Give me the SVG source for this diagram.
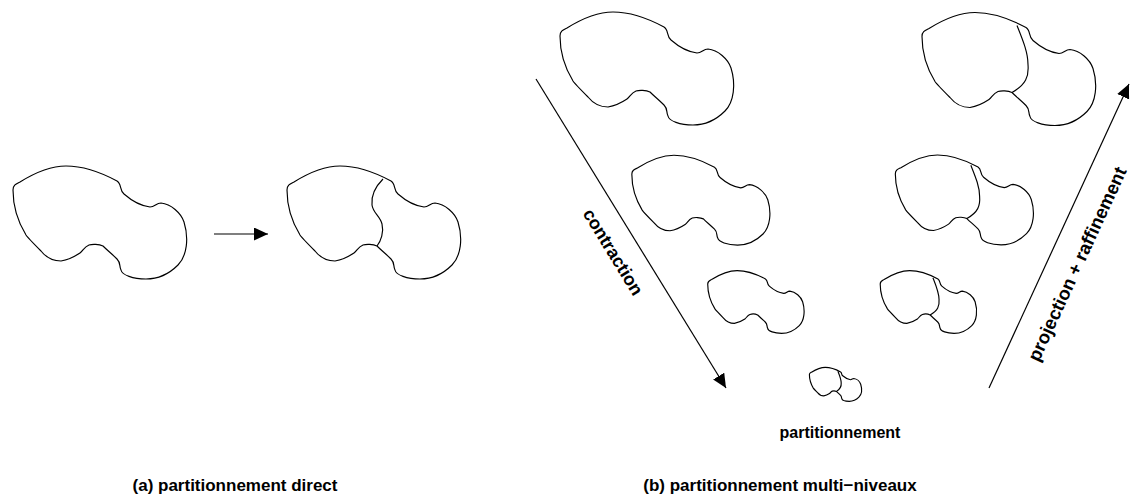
<svg xmlns="http://www.w3.org/2000/svg" width="1130" height="502" viewBox="0 0 1130 502">
<style>
.o{fill:none;stroke:#000;stroke-width:1.15;stroke-linejoin:round}
.c{fill:none;stroke:#000;stroke-width:1.2}
.t{font-family:"Liberation Sans",Arial,sans-serif;font-weight:bold;fill:#000}
</style>
<defs>
<path id="blob" vector-effect="non-scaling-stroke" d="M20,182 C36,172 50,166 66,166 C86,166 104,174 117,181 C122,184 119,190 124,194 C132,201 142,206 150,207 C155,207 156,203 161,203 C171,204 181,213 184,222 C189,238 187,256 178,265 C168,275 158,279 146,279 C133,279 122,275 121,270 C119,266 121,263 117,259 C112,254 107,250 103,246 C99,244 92,244 89,245 C84,247 83,251 80,253 C74,257 67,260 61,261 C52,261 45,256 41,251 C34,244 28,238 26,235 C18,222 13,205 13,190 C13,185 16,184 20,182 Z"/>
<path id="divA" vector-effect="non-scaling-stroke" d="M109,179 C100,188 97,196 98,205 C99,213 106,216 108,224 C110,232 107,241 103,246"/>
<path id="divB" vector-effect="non-scaling-stroke" d="M108,179 C114,194 119,206 119,218 C120,230 117,238 103,246"/>
<marker id="ah" markerUnits="userSpaceOnUse" markerWidth="15" markerHeight="14" refX="14" refY="6.5" orient="auto">
<path d="M0,0 L14,6.5 L0,13 Z" fill="#000"/>
</marker>
</defs>
<g id="a-original"><use href="#blob" class="o"/></g>
<g id="a-partitioned" transform="translate(274,0)"><use href="#blob" class="o"/><use href="#divA" class="o"/></g>
<g id="b-level1" transform="translate(547,-154)"><use href="#blob" class="o"/></g>
<g id="b-level2" transform="translate(621.5,23.3) scale(0.795)"><use href="#blob" class="o"/></g>
<g id="b-level3" transform="translate(700.5,178.5) scale(0.555)"><use href="#blob" class="o"/></g>
<g id="b-level4" transform="translate(805.5,317.6) scale(0.3)"><use href="#blob" class="o"/><use href="#divB" class="o"/></g>
<g id="b-refined3" transform="translate(873,178.5) scale(0.555)"><use href="#blob" class="o"/><use href="#divB" class="o"/></g>
<g id="b-refined2" transform="translate(885,23) scale(0.795)"><use href="#blob" class="o"/><use href="#divB" class="o"/></g>
<g id="b-refined1" transform="translate(909,-153.5)"><use href="#blob" class="o"/><use href="#divB" class="o"/></g>
<g id="connectors">
<line class="c" x1="214" y1="234" x2="268" y2="234" marker-end="url(#ah)"/>
<line class="c" x1="536" y1="79" x2="726" y2="388" marker-end="url(#ah)"/>
<line class="c" x1="989" y1="388" x2="1129" y2="84" marker-end="url(#ah)"/>
</g>
<g id="labels">
<text class="t" font-size="18" text-anchor="middle" dominant-baseline="central" transform="translate(613,252) rotate(58.4)">contraction</text>
<text class="t" font-size="18.5" text-anchor="middle" dominant-baseline="central" transform="translate(1077,264) rotate(-65.3)">projection + raffinement</text>
<text class="t" font-size="16" text-anchor="middle" x="840" y="438">partitionnement</text>
<text class="t" font-size="17" text-anchor="middle" x="235" y="491">(a) partitionnement direct</text>
<text class="t" font-size="17" text-anchor="middle" x="780" y="491">(b) partitionnement multi−niveaux</text>
</g>
</svg>
